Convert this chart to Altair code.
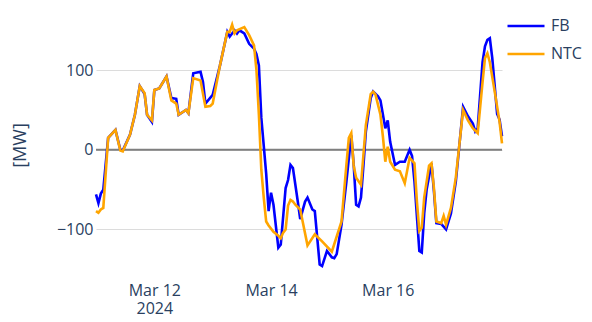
import altair as alt
import pandas as pd

# Hours after 2024-03-11 00:00 (UTC) and values in MW
fb_hours = [0, 1, 2, 3, 5, 8, 10, 11, 14, 16, 18, 20, 21, 23, 24, 26, 29, 31, 33, 34, 37, 38, 40, 43,
            44, 45, 48, 51, 54, 55, 57, 58, 59, 61, 63, 65, 66, 67, 68, 70, 71, 72, 73, 75, 76, 78, 79,
            80, 81, 83, 84, 86, 87, 89, 90, 92, 93, 95, 97, 98, 99, 101, 103, 105, 106, 107, 108, 109,
            110, 111, 113, 114, 116, 117, 119, 120, 121, 123, 125, 127, 129, 130, 131, 133, 134, 135,
            136, 138, 139, 140, 142, 144, 146, 148, 151, 153, 155, 156, 157, 159, 160, 161, 162, 163,
            165, 166, 167]
fb_values = [-56, -67, -55, -50, 15, 25, 0, -1, 19, 44, 80, 70, 44, 35, 75, 77, 92, 65, 64, 44, 50, 46, 96, 98,
             85, 58, 69, 106, 148, 142, 150, 146, 150, 146, 133, 127, 120, 106, 40, -30, -77, -54, -69, -123, -119, -48, -38,
             -19, -23, -65, -87, -65, -60, -75, -77, -144, -146, -127, -135, -136, -131, -94, -40, 18, -19, -69, -71, -60,
             -20, 23, 65, 73, 67, 62, 27, 37, 10, -19, -15, -15, 0, -8, -40, -127, -129, -80,
             -50, -17, -52, -92, -93, -100, -80, -40, 54, 42, 33, 23, 27, 110, 130, 138, 140, 115,
             45, 38, 17]

ntc_hours = [0, 1, 2, 3, 5, 8, 10, 11, 14, 16, 18, 20, 21, 23, 24, 26, 29, 31, 33, 34, 37, 38, 40, 43,
             45, 47, 48, 51, 54, 55, 56, 57, 58, 61, 63, 65, 66, 67, 68, 69, 70, 71, 73, 75, 76, 77, 78,
             79, 80, 81, 82, 84, 85, 87, 90, 93, 97, 101, 103, 104, 105, 106, 107, 109, 111, 113, 114,
             115, 117, 118, 119, 120, 121, 123, 125, 127, 129, 131, 132, 133, 134, 135, 137, 138, 139,
             140, 142, 143, 144, 146, 148, 151, 153, 155, 157, 159, 160, 161, 162, 164, 166, 167]
ntc_values = [-77, -79, -75, -73, 15, 25, -1, -2, 19, 44, 80, 71, 44, 37, 75, 77, 92, 62, 58, 44, 50, 46, 90, 87,
              54, 55, 58, 106, 148, 148, 157, 146, 150, 154, 144, 131, 100, 44, -25, -60, -90, -95, -103, -108, -111, -104, -100,
              -70, -63, -65, -69, -75, -90, -120, -106, -115, -128, -90, -19, 15, 21, -20, -35, -44, 31, 70, 73,
              69, 44, 17, -15, 4, -15, -25, -27, -42, -10, -17, -65, -102, -98, -60, -20, -17, -48,
              -90, -92, -83, -94, -73, -35, 50, 37, 27, 21, 85, 115, 121, 110, 73, 35, 8]

series_names = ["FB", "NTC"]
series_colors = ["#0000FF", "#FFA500"]
y_ticks = [-100, 0, 100]

base = pd.Timestamp("2024-03-11T00:00:00Z")
rows = []
for h, v in zip(fb_hours, fb_values):
    rows.append({"t": (base + pd.Timedelta(hours=h)).isoformat(), "value": v, "series": "FB"})
for h, v in zip(ntc_hours, ntc_values):
    rows.append({"t": (base + pd.Timedelta(hours=h)).isoformat(), "value": v, "series": "NTC"})
df = pd.DataFrame(rows)

FONT = "Open Sans"
TXT = "#2a3f5f"

x_enc = alt.X(
    "t:T",
    scale=alt.Scale(type="utc",
                    domain=[alt.DateTime(year=2024, month=3, date=11, hours=0, utc=True),
                            alt.DateTime(year=2024, month=3, date=17, hours=23, utc=True)]),
    axis=alt.Axis(
        title=None, domain=False, ticks=False, grid=False,
        values=[alt.DateTime(year=2024, month=3, date=d, utc=True) for d in (12, 14, 16)],
        labelExpr="datum.index == 0 ? [utcFormat(datum.value, '%b %-d'), '2024'] : utcFormat(datum.value, '%b %-d')",
        labelFont=FONT, labelFontSize=16, labelColor=TXT, labelPadding=4, labelLineHeight=18,
        labelBaseline="top", labelFlush=False,
    ),
)

y_enc = alt.Y(
    "value:Q",
    scale=alt.Scale(domain=[-161, 173], nice=False, zero=False),
    axis=alt.Axis(
        title="[MW]", values=y_ticks, domain=False, ticks=False, grid=True,
        gridColor="#dcdcdc", gridWidth=1.2,
        labelFont=FONT, labelFontSize=16, labelColor=TXT, labelPadding=3,
        titleFont=FONT, titleFontSize=18, titleColor=TXT, titleFontWeight="normal",
        titleX=-76, titleY=133, titleAngle=-90, titleAlign="center", titleBaseline="middle",
    ),
)

lines = alt.Chart(df).mark_line(strokeWidth=2.6, interpolate="linear").encode(
    x=x_enc,
    y=y_enc,
    color=alt.Color(
        "series:N",
        scale=alt.Scale(domain=series_names, range=series_colors),
        legend=alt.Legend(
            title=None, orient="none", legendX=410, legendY=-6, padding=0,
            symbolType="stroke", symbolSize=1369, symbolStrokeWidth=2.6,
            labelFont=FONT, labelFontSize=16, labelColor=TXT, labelOffset=5,
            rowPadding=-3.6,
        ),
    ),
)

zero = alt.Chart(pd.DataFrame({"v": [0]})).mark_rule(color="#7f7f7f", strokeWidth=2).encode(y=alt.Y("v:Q"))

chart = alt.layer(zero, lines).properties(
    width=406, height=266,
    autosize=alt.AutoSizeParams(type="none"),
    padding={"left": 88, "top": 4, "right": 82, "bottom": 36},
).configure(background="white").configure_view(stroke=None, strokeWidth=0)

chart.save("out.html", embed_options={"renderer": "svg", "actions": False})
